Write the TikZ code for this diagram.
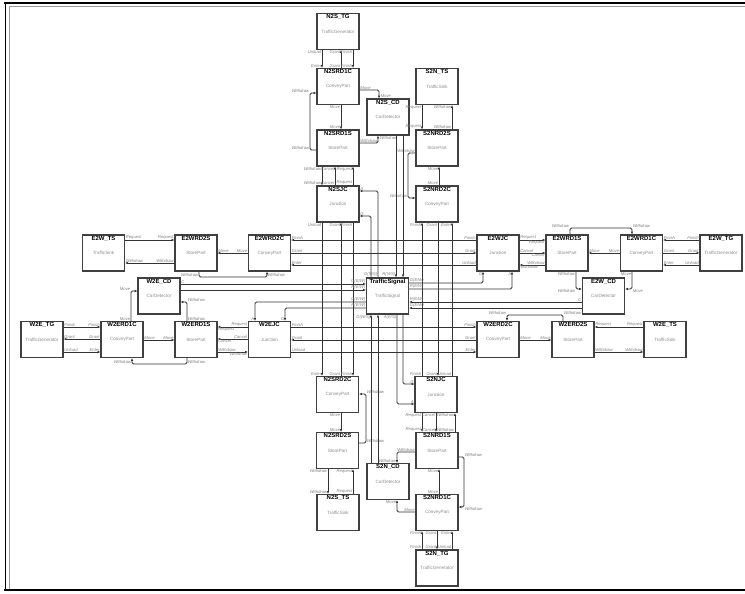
\documentclass[tikz,border=0pt]{standalone}
\usepackage{fontspec}
\setmainfont{Liberation Sans}
\usetikzlibrary{arrows.meta}
\tikzset{
 box/.style={draw=black!75, line width=1.1bp, fill=white, minimum width=42bp, minimum height=36bp, inner sep=0pt},
 ttl/.style={font=\fontsize{6}{6}\selectfont\bfseries, inner sep=0pt, anchor=north},
 sub/.style={font=\fontsize{4.6}{5}\selectfont, text=black!45, inner sep=0pt},
 lbl/.style={font=\fontsize{4.2}{4.2}\selectfont\itshape, text=black!50, inner sep=0.4bp},
 arr/.style={draw=black!80, line width=0.8bp, -{Latex[length=2.8bp,width=2.4bp]}, rounded corners=1.5bp},
}
\newcommand\blk[5]{%
 \node[box] (#1) at (#2,#3) {};
 \node[ttl] (#1t) at ([yshift=-1.5bp]#1.north) {#4};
 \node[sub] (#1s) at (#1.center) {#5};
}
\newcommand\vd[5]{\draw[arr] (#1,0 |- #2.south) node[lbl,anchor=north east]{#4} -- (#1,0 |- #3.north) node[lbl,anchor=south east]{#5};}
\newcommand\vu[5]{\draw[arr] (#1,0 |- #3.north) node[lbl,anchor=south east]{#5} -- (#1,0 |- #2.south) node[lbl,anchor=north east]{#4};}
\newcommand\hr[5]{\draw[arr] (#2.east |- 0,#1) node[lbl,anchor=south west]{#4} -- (#3.west |- 0,#1) node[lbl,anchor=south east]{#5};}
\newcommand\hl[5]{\draw[arr] (#3.west |- 0,#1) node[lbl,anchor=south east]{#5} -- (#2.east |- 0,#1) node[lbl,anchor=south west]{#4};}
\newcommand\hrb[5]{\draw[arr] (#2.east |- 0,#1) node[lbl,anchor=south west]{#4} -- (#3.west |- 0,#1) node[lbl,anchor=north east]{#5};}
\newcommand\hlb[5]{\draw[arr] (#3.west |- 0,#1) node[lbl,anchor=south east]{#5} -- (#2.east |- 0,#1) node[lbl,anchor=north west]{#4};}
\begin{document}
\begin{tikzpicture}[x=1bp,y=-1bp]
\useasboundingbox (0,0) rectangle (745,594);
% frame
\draw[line width=1.8bp, black] (4,3) -- (745,3);
\draw[line width=0.7bp, black!40] (9,6.5) -- (745,6.5);
\draw[line width=1.8bp, black] (5.5,3) -- (5.5,590);
\draw[line width=0.7bp, black!40] (9.5,6.5) -- (9.5,590);
\draw[line width=1.8bp, black] (4,590) -- (745,590);
% blocks
\blk{N2STG}{338}{31.5}{N2S\_TG}{TrafficGenerator}
\blk{N2SRD1C}{338}{86.5}{N2SRD1C}{ConveyPart}
\blk{S2NTS}{437}{86.5}{S2N\_TS}{TrafficSink}
\blk{N2SCD}{388}{117}{N2S\_CD}{CarDetector}
\blk{N2SRD1S}{338}{148}{N2SRD1S}{StorePart}
\blk{S2NRD2S}{437}{148}{S2NRD2S}{StorePart}
\blk{N2SJC}{338}{204}{N2SJC}{Junction}
\blk{S2NRD2C}{437}{204}{S2NRD2C}{ConveyPart}
\blk{E2WTS}{103.5}{253}{E2W\_TS}{TrafficSink}
\blk{E2WRD2S}{196}{253}{E2WRD2S}{StorePart}
\blk{E2WRD2C}{269.5}{253}{E2WRD2C}{ConveyPart}
\blk{E2WJC}{498}{253}{E2WJC}{Junction}
\blk{E2WRD1S}{567}{253}{E2WRD1S}{StorePart}
\blk{E2WRD1C}{641.5}{253}{E2WRD1C}{ConveyPart}
\blk{E2WTG}{721}{253}{E2W\_TG}{TrafficGenerator}
\blk{W2ECD}{159}{296}{W2E\_CD}{CarDetector}
\blk{TS}{387.5}{296}{TrafficSignal}{TrafficSignal}
\blk{E2WCD}{603.5}{296}{E2W\_CD}{CarDetector}
\blk{W2ETG}{42}{339.5}{W2E\_TG}{TrafficGenerator}
\blk{W2ERD1C}{122}{339.5}{W2ERD1C}{ConveyPart}
\blk{W2ERD1S}{196}{339.5}{W2ERD1S}{StorePart}
\blk{W2EJC}{269.5}{339.5}{W2EJC}{Junction}
\blk{W2ERD2C}{498}{339.5}{W2ERD2C}{ConveyPart}
\blk{W2ERD2S}{573}{339.5}{W2ERD2S}{StorePart}
\blk{W2ETS}{665}{339.5}{W2E\_TS}{TrafficSink}
\blk{N2SRD2C}{337.5}{394.5}{N2SRD2C}{ConveyPart}
\blk{S2NJC}{436}{394.5}{S2NJC}{Junction}
\blk{N2SRD2S}{337.5}{450.5}{N2SRD2S}{StorePart}
\blk{S2NRD1S}{437}{450.5}{S2NRD1S}{StorePart}
\blk{S2NCD}{388}{481.5}{S2N\_CD}{CarDetector}
\blk{N2STS}{338}{512.5}{N2S\_TS}{TrafficSink}
\blk{S2NRD1C}{437}{512.5}{S2NRD1C}{ConveyPart}
\blk{S2NTG}{437}{568}{S2N\_TG}{TrafficGenerator}
% ===== N2S lane =====
\vd{322}{N2STG}{N2SRD1C}{Unload}{Enter}
\vu{341}{N2STG}{N2SRD1C}{Grant}{Grant}
\vd{353}{N2STG}{N2SRD1C}{Finish}{Finish}
\vd{341}{N2SRD1C}{N2SRD1S}{Move}{Move}
\draw[arr] (N2SRD1S.west |- 0,150) -- (310,150) node[lbl,anchor=south east]{Withdraw} -- (310,93) node[lbl,anchor=south east]{Withdraw} -- (N2SRD1C.west |- 0,93);
\draw[arr] (N2SRD1C.east |- 0,90) node[lbl,anchor=south west]{Move} -- (379,90) -- (379,0 |- N2SCD.north) node[lbl,anchor=south west,xshift=1bp]{Move};
\draw[arr] (N2SRD1S.east |- 0,143) node[lbl,anchor=south west]{Withdraw} -- (378,143) -- (378,0 |- N2SCD.south) node[lbl,anchor=north west,xshift=1bp]{Withdraw};
\vd{322}{N2SRD1S}{N2SJC}{Withdraw}{Withdraw}
\vu{335}{N2SRD1S}{N2SJC}{Cancel}{Cancel}
\vu{353}{N2SRD1S}{N2SJC}{Request}{Request}
\vd{322}{N2SJC}{N2SRD2C}{Unload}{Enter}
\vu{341}{N2SJC}{N2SRD2C}{Grant}{Grant}
\vd{353}{N2SJC}{N2SRD2C}{Finish}{Finish}
\vd{341}{N2SRD2C}{N2SRD2S}{Move}{Move}
\draw[arr] (N2SRD2S.east |- 0,443) -- (366,443) node[lbl,anchor=south west]{Withdraw} -- (366,394) node[lbl,anchor=south west]{Withdraw} -- (N2SRD2C.east |- 0,394);
\vd{328}{N2SRD2S}{N2STS}{Withdraw}{Withdraw}
\vu{353}{N2SRD2S}{N2STS}{Request}{Request}
% ===== S2N lane =====
\vu{422}{S2NRD1C}{S2NTG}{Finish}{Finish}
\vd{437}{S2NRD1C}{S2NTG}{Grant}{Grant}
\vu{452}{S2NRD1C}{S2NTG}{Enter}{Unload}
\vu{439}{S2NRD1S}{S2NRD1C}{Move}{Move}
\draw[arr] (S2NRD1S.east |- 0,457) -- (464,457) node[lbl,anchor=south west]{Withdraw} -- (464,507) node[lbl,anchor=north west]{Withdraw} -- (S2NRD1C.east |- 0,507);
\draw[arr] (S2NRD1C.west |- 0,512) node[lbl,anchor=south east]{Move} -- (397,512) -- (397,0 |- S2NCD.south) node[lbl,anchor=north east]{Move};
\draw[arr] (S2NRD1S.west |- 0,452) node[lbl,anchor=south east]{Withdraw} -- (397,452) -- (397,0 |- S2NCD.north) node[lbl,anchor=south east]{Withdraw};
\vd{422}{S2NJC}{S2NRD1S}{Request}{Request}
\vd{436}{S2NJC}{S2NRD1S}{Cancel}{Cancel}
\vu{455}{S2NJC}{S2NRD1S}{Withdraw}{Withdraw}
\vu{422}{S2NRD2C}{S2NJC}{Finish}{Finish}
\vd{438}{S2NRD2C}{S2NJC}{Grant}{Grant}
\vu{452}{S2NRD2C}{S2NJC}{Enter}{Unload}
\vu{439}{S2NRD2S}{S2NRD2C}{Move}{Move}
\draw[arr] (S2NRD2S.west |- 0,153) node[lbl,anchor=south east]{Withdraw} -- (408,153) -- (408,198) node[lbl,anchor=south east]{Withdraw} -- (S2NRD2C.west |- 0,198);
\vd{422}{S2NTS}{S2NRD2S}{Request}{Request}
\vu{452}{S2NTS}{S2NRD2S}{Withdraw}{Withdraw}
% ===== E2W lane =====
\hl{240}{E2WRD1C}{E2WTG}{Finish}{Finish}
\hr{253}{E2WRD1C}{E2WTG}{Grant}{Grant}
\hl{265}{E2WRD1C}{E2WTG}{Enter}{Unload}
\hl{253}{E2WRD1S}{E2WRD1C}{Move}{Move}
\draw[arr] (570,0 |- E2WRD1S.north) -- (570,228) node[lbl,anchor=south east]{Withdraw} -- (632,228) node[lbl,anchor=south west]{Withdraw} -- (632,0 |- E2WRD1C.north);
\draw[arr] (632,0 |- E2WRD1C.south) node[lbl,anchor=north east]{Move} -- (632,289) node[lbl,anchor=north west]{Move} -- (E2WCD.east |- 0,289);
\draw[arr] (576,0 |- E2WRD1S.south) node[lbl,anchor=north east]{Withdraw} -- (576,289) node[lbl,anchor=north east]{Withdraw} -- (E2WCD.west |- 0,289);
\hrb{240}{E2WJC}{E2WRD1S}{Request}{Request}
\hrb{253}{E2WJC}{E2WRD1S}{Cancel}{Cancel}
\hlb{265}{E2WJC}{E2WRD1S}{Withdraw}{Withdraw}
\hl{240}{E2WRD2C}{E2WJC}{Finish}{Finish}
\hr{253}{E2WRD2C}{E2WJC}{Grant}{Grant}
\hl{265}{E2WRD2C}{E2WJC}{Enter}{Unload}
\hl{253}{E2WRD2S}{E2WRD2C}{Move}{Move}
\draw[arr] (199,0 |- E2WRD2S.south) -- (199,277) node[lbl,anchor=south east]{Withdraw} -- (267,277) node[lbl,anchor=south west]{Withdraw} -- (267,0 |- E2WRD2C.south);
\hr{240}{E2WTS}{E2WRD2S}{Request}{Request}
\hl{263}{E2WTS}{E2WRD2S}{Withdraw}{Withdraw}
% ===== W2E lane =====
\hr{327}{W2ETG}{W2ERD1C}{Finish}{Finish}
\hl{339}{W2ETG}{W2ERD1C}{Grant}{Grant}
\hr{352}{W2ETG}{W2ERD1C}{Unload}{Enter}
\hr{340}{W2ERD1C}{W2ERD1S}{Move}{Move}
\draw[arr] (187,0 |- W2ERD1S.south) -- (187,364) node[lbl,anchor=south west]{Withdraw} -- (132,364) node[lbl,anchor=south east]{Withdraw} -- (132,0 |- W2ERD1C.south);
\draw[arr] (131,0 |- W2ERD1C.north) node[lbl,anchor=south east]{Move} -- (131,291) node[lbl,anchor=south east]{Move} -- (W2ECD.west |- 0,291);
\draw[arr] (187,0 |- W2ERD1S.north) node[lbl,anchor=south west]{Withdraw} -- (187,302) node[lbl,anchor=south west]{Withdraw} -- (W2ECD.east |- 0,302);
\hlb{327}{W2ERD1S}{W2EJC}{Request}{Request}
\hlb{339}{W2ERD1S}{W2EJC}{Cancel}{Cancel}
\hrb{352}{W2ERD1S}{W2EJC}{Withdraw}{Withdraw}
\hr{327}{W2EJC}{W2ERD2C}{Finish}{Finish}
\hl{340}{W2EJC}{W2ERD2C}{Grant}{Grant}
\hr{352}{W2EJC}{W2ERD2C}{Unload}{Enter}
\hr{340}{W2ERD2C}{W2ERD2S}{Move}{Move}
\draw[arr] (563,0 |- W2ERD2S.north) -- (563,315) node[lbl,anchor=south west]{Withdraw} -- (507,315) node[lbl,anchor=south east]{Withdraw} -- (507,0 |- W2ERD2C.north);
\hl{327}{W2ERD2S}{W2ETS}{Request}{Request}
\hr{352}{W2ERD2S}{W2ETS}{Withdraw}{Withdraw}
% ===== Traffic signal =====
\draw[arr] (396,0 |- N2SCD.south) -- (396,0 |- TS.north) node[lbl,anchor=south east]{R(N/S)};
\draw[arr] (403,0 |- N2SCD.south) -- (403,0 |- TS.north);
\draw[arr] (378,0 |- TS.north) node[lbl,anchor=south east]{G(N/S)} -- (378,191) -- (N2SJC.east |- 0,191) node[lbl,anchor=south west]{A};
\draw[arr] (371,0 |- TS.north) -- (371,216) -- (N2SJC.east |- 0,216) node[lbl,anchor=south west]{G};
\draw[arr] (371,0 |- S2NCD.north) -- (371,0 |- TS.south) node[lbl,anchor=north east]{D(W/S)};
\draw[arr] (378,0 |- S2NCD.north) -- (378,0 |- TS.south);
\draw[arr] (397,0 |- TS.south) node[lbl,anchor=north east]{A(E/S)} -- (397,404) -- (S2NJC.west |- 0,404) node[lbl,anchor=south east]{A};
\draw[arr] (403,0 |- TS.south) -- (403,384) -- (S2NJC.west |- 0,384) node[lbl,anchor=south east]{G};
\draw[arr] (W2ECD.east |- 0,284) node[lbl,anchor=south west]{C} -- (TS.west |- 0,284) node[lbl,anchor=south east]{G(E/W)};
\draw[arr] (W2ECD.east |- 0,290) -- (TS.west |- 0,290) node[lbl,anchor=south east]{R(E/W)};
\draw[arr] (TS.east |- 0,283) node[lbl,anchor=south west]{G(E/W)} -- (483,283) -- (483,0 |- E2WJC.south) node[lbl,anchor=north east]{G};
\draw[arr] (TS.east |- 0,289) node[lbl,anchor=south west]{R(E/W)} -- (512,289) -- (512,0 |- E2WJC.south) node[lbl,anchor=north east]{A};
\draw[arr] (E2WCD.west |- 0,302) node[lbl,anchor=south east]{C} -- (TS.east |- 0,302) node[lbl,anchor=south west]{R(E/W)};
\draw[arr] (E2WCD.west |- 0,308) -- (TS.east |- 0,308) node[lbl,anchor=south west]{G(E/W)};
\draw[arr] (TS.west |- 0,302) node[lbl,anchor=south east]{G(E/W)} -- (255,302) -- (255,0 |- W2EJC.north) node[lbl,anchor=south east]{A};
\draw[arr] (TS.west |- 0,308) node[lbl,anchor=south east]{R(E/W)} -- (285,308) -- (285,0 |- W2EJC.north) node[lbl,anchor=south east]{G};
\end{tikzpicture}
\end{document}
